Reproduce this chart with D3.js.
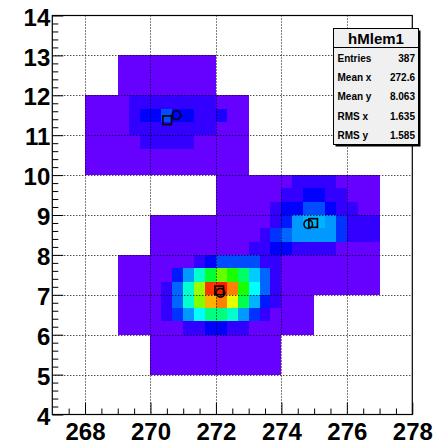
<!DOCTYPE html>
<html><head><meta charset="utf-8">
<script src="https://cdn.jsdelivr.net/npm/d3@7"></script>
<style>body{margin:0;background:#fff}svg{display:block}</style>
</head><body>
<svg id="c" width="434" height="442"></svg>
<script>
// ---- data ----
const xMin = 267, xMax = 278, yMin = 4, yMax = 14;
const nBinsX = 33, nBinsY = 30;
// bin contents, top row (y 13.67-14) first, x from 267 upward in 1/3 steps
const zRows = [
 [0,0,0,0,0,0,0,0,0,0,0,0,0,0,0,0,0,0,0,0,0,0,0,0,0,0,0,0,0,0,0,0,0],
 [0,0,0,0,0,0,0,0,0,0,0,0,0,0,0,0,0,0,0,0,0,0,0,0,0,0,0,0,0,0,0,0,0],
 [0,0,0,0,0,0,0,0,0,0,0,0,0,0,0,0,0,0,0,0,0,0,0,0,0,0,0,0,0,0,0,0,0],
 [0,0,0,0,0,0,1,1,1,1,1,1,1,1,1,0,0,0,0,0,0,0,0,0,0,0,0,0,0,0,0,0,0],
 [0,0,0,0,0,0,1,1,1,1,1,1,1,1,1,0,0,0,0,0,0,0,0,0,0,0,0,0,0,0,0,0,0],
 [0,0,0,0,0,0,1,1,1,1,1,1,1,1,1,0,0,0,0,0,0,0,0,0,0,0,0,0,0,0,0,0,0],
 [0,0,0,1,1,1,1,3,3,3,3,3,3,3,3,1,1,1,0,0,0,0,0,0,0,0,0,0,0,0,0,0,0],
 [0,0,0,1,1,1,1,3,5,5,8,5,5,3,3,4,1,1,0,0,0,0,0,0,0,0,0,0,0,0,0,0,0],
 [0,0,0,1,1,1,1,3,3,3,3,3,3,3,3,1,1,1,0,0,0,0,0,0,0,0,0,0,0,0,0,0,0],
 [0,0,0,1,1,1,1,1,3,3,3,3,3,1,1,1,1,1,0,0,0,0,0,0,0,0,0,0,0,0,0,0,0],
 [0,0,0,1,1,1,1,1,1,1,1,1,1,1,1,1,1,1,0,0,0,0,0,0,0,0,0,0,0,0,0,0,0],
 [0,0,0,1,1,1,1,1,1,1,1,1,1,1,1,1,1,1,0,0,0,0,0,0,0,0,0,0,0,0,0,0,0],
 [0,0,0,0,0,0,0,0,0,0,0,0,0,0,0,1,1,1,1,1,1,1,3,3,3,3,1,1,1,1,0,0,0],
 [0,0,0,0,0,0,0,0,0,0,0,0,0,0,0,1,1,1,1,1,1,3,3,5,5,3,3,1,1,1,0,0,0],
 [0,0,0,0,0,0,0,0,0,0,0,0,0,0,0,1,1,1,1,1,3,5,5,8,8,5,3,3,1,1,0,0,0],
 [0,0,0,0,0,0,0,0,0,1,1,1,1,1,1,1,1,1,1,1,3,6,11,12,12,11,7,3,3,3,0,0,0],
 [0,0,0,0,0,0,0,0,0,1,1,1,1,1,1,1,1,1,1,3,7,9,11,11,11,11,7,3,3,3,0,0,0],
 [0,0,0,0,0,0,0,0,0,1,1,1,1,1,1,1,1,1,3,3,5,5,3,3,3,3,1,1,1,1,0,0,0],
 [0,0,0,0,0,0,1,1,1,1,1,1,1,3,5,8,8,8,8,3,3,1,1,1,1,1,1,1,1,1,0,0,0],
 [0,0,0,0,0,0,1,1,1,1,1,6,11,17,23,29,26,21,13,9,3,1,1,1,1,1,1,1,1,1,0,0,0],
 [0,0,0,0,0,0,1,1,1,1,3,9,17,31,43,44,40,26,15,9,3,1,1,1,1,1,1,1,1,1,0,0,0],
 [0,0,0,0,0,0,1,1,1,1,3,9,17,30,38,40,34,22,12,6,3,1,1,1,0,0,0,0,0,0,0,0,0],
 [0,0,0,0,0,0,1,1,1,1,3,7,11,15,20,20,17,11,7,3,1,1,1,1,0,0,0,0,0,0,0,0,0],
 [0,0,0,0,0,0,1,1,1,1,1,1,3,3,5,5,3,3,1,1,1,1,1,1,0,0,0,0,0,0,0,0,0],
 [0,0,0,0,0,0,0,0,0,1,1,1,1,1,1,1,1,1,1,1,1,0,0,0,0,0,0,0,0,0,0,0,0],
 [0,0,0,0,0,0,0,0,0,1,1,1,1,1,1,1,1,1,1,1,1,0,0,0,0,0,0,0,0,0,0,0,0],
 [0,0,0,0,0,0,0,0,0,1,1,1,1,1,1,1,1,1,1,1,1,0,0,0,0,0,0,0,0,0,0,0,0],
 [0,0,0,0,0,0,0,0,0,0,0,0,0,0,0,0,0,0,0,0,0,0,0,0,0,0,0,0,0,0,0,0,0],
 [0,0,0,0,0,0,0,0,0,0,0,0,0,0,0,0,0,0,0,0,0,0,0,0,0,0,0,0,0,0,0,0,0],
 [0,0,0,0,0,0,0,0,0,0,0,0,0,0,0,0,0,0,0,0,0,0,0,0,0,0,0,0,0,0,0,0,0]
];
const xTickValues = [268, 270, 272, 274, 276, 278];
const yTickValues = [4, 5, 6, 7, 8, 9, 10, 11, 12, 13, 14];
const circleMarkersX = [270.79, 274.82, 272.14];
const circleMarkersY = [11.50, 8.77, 7.05];
const squareMarkersX = [270.51, 274.97, 272.10];
const squareMarkersY = [11.375, 8.80, 7.11];
const statsTitle = "hMlem1";
const statsLabels = ["Entries", "Mean x", "Mean y", "RMS x", "RMS y"];
const statsValues = ["387", "272.6", "8.063", "1.635", "1.585"];

// ---- drawing ----
const FONT = "'Liberation Sans', Arial, Helvetica, sans-serif";
const svg = d3.select("#c");
const L = 52.3, R = 412.3, T = 15.5, B = 414.5;
const X = d3.scaleLinear().domain([xMin, xMax]).range([L, R]);
const Y = d3.scaleLinear().domain([yMin, yMax]).range([B, T]);
const hue = d3.scaleLinear().domain([1, 45]).range([264, 0]).clamp(true);
const color = z => d3.hsl(hue(z), 1, 0.5).formatHex();

const bw = (xMax - xMin) / nBinsX, bh = (yMax - yMin) / nBinsY;
const cells = [];
zRows.forEach((row, r) => {
  const j = nBinsY - 1 - r;
  row.forEach((z, i) => {
    if (z > 0) cells.push({x0: xMin + i * bw, x1: xMin + (i + 1) * bw, y0: yMin + j * bh, y1: yMin + (j + 1) * bh, z});
  });
});

svg.append("g").attr("shape-rendering", "crispEdges")
  .selectAll("rect").data(cells).join("rect")
  .attr("x", d => Math.round(X(d.x0)))
  .attr("width", d => Math.round(X(d.x1)) - Math.round(X(d.x0)))
  .attr("y", d => Math.round(Y(d.y1)))
  .attr("height", d => Math.round(Y(d.y0)) - Math.round(Y(d.y1)))
  .attr("fill", d => color(d.z));

// grid (dotted)
const grid = svg.append("g").attr("stroke", "#000").attr("stroke-width", 1).attr("stroke-dasharray", "1,2");
grid.selectAll("line.gx").data(xTickValues.filter(v => v > xMin && v < xMax)).join("line")
  .attr("x1", d => Math.round(X(d)) + 0.5).attr("x2", d => Math.round(X(d)) + 0.5)
  .attr("y1", T).attr("y2", B);
grid.selectAll("line.gy").data(yTickValues.filter(v => v > yMin && v < yMax)).join("line")
  .attr("class", "gy")
  .attr("y1", d => Math.round(Y(d)) + 0.5).attr("y2", d => Math.round(Y(d)) + 0.5)
  .attr("x1", L).attr("x2", R);

// markers
const mk = svg.append("g").attr("fill", "none").attr("stroke", "#000").attr("stroke-width", 1.6);
mk.selectAll("circle").data(circleMarkersX.map((x, k) => [x, circleMarkersY[k]])).join("circle")
  .attr("cx", d => X(d[0])).attr("cy", d => Y(d[1])).attr("r", 4.3);
mk.selectAll("rect").data(squareMarkersX.map((x, k) => [x, squareMarkersY[k]])).join("rect")
  .attr("x", d => X(d[0]) - 4.3).attr("y", d => Y(d[1]) - 4.3).attr("width", 8.6).attr("height", 8.6);

// axes
const minorX = d3.range(267.5, 278, 0.5).filter(v => !xTickValues.includes(v));
const minorY = d3.range(42, 140, 2).map(v => v / 10).filter(v => !yTickValues.includes(v));

const gx = svg.append("g").attr("transform", `translate(0,${B})`);
gx.append("g").call(d3.axisBottom(X).tickValues(minorX).tickSize(-6).tickFormat(""));
gx.append("g").call(d3.axisBottom(X).tickValues(xTickValues).tickSize(-12).tickPadding(8.5).tickFormat(d3.format("d")));
const gy = svg.append("g").attr("transform", `translate(${L},0)`);
gy.append("g").call(d3.axisLeft(Y).tickValues(minorY).tickSize(-6).tickFormat(""));
gy.append("g").call(d3.axisLeft(Y).tickValues(yTickValues).tickSize(-11).tickPadding(2).tickFormat(d3.format("d")));
svg.selectAll(".domain").remove();
svg.selectAll(".tick line").attr("stroke", "#000").attr("stroke-width", 1);
svg.selectAll(".tick text").attr("font-family", FONT).attr("font-weight", "bold")
  .attr("font-size", 24).attr("fill", "#000");
gy.selectAll(".tick text").attr("dy", "0.4em");

// frame
svg.append("rect").attr("x", L).attr("y", T).attr("width", R - L).attr("height", B - T)
  .attr("fill", "none").attr("stroke", "#000").attr("stroke-width", 1.2);

// stats box
const sb = {x: 333.5, y: 28.5, w: 85, h: 116};
const st = svg.append("g");
st.append("rect").attr("x", sb.x + 2).attr("y", sb.y + 2).attr("width", sb.w).attr("height", sb.h).attr("fill", "#000");
st.append("rect").attr("x", sb.x).attr("y", sb.y).attr("width", sb.w).attr("height", sb.h)
  .attr("fill", "#f0f0f0").attr("stroke", "#000").attr("stroke-width", 1);
st.append("line").attr("x1", sb.x).attr("x2", sb.x + sb.w).attr("y1", 47.5).attr("y2", 47.5).attr("stroke", "#000");
st.append("text").attr("x", sb.x + sb.w / 2).attr("y", 44).attr("text-anchor", "middle")
  .attr("font-family", FONT).attr("font-weight", "bold").attr("font-size", 15).text(statsTitle);
const rowY = d3.scaleLinear().domain([0, statsLabels.length - 1]).range([61.5, 139.1]);
st.selectAll("text.l").data(statsLabels).join("text").attr("class", "l")
  .attr("x", 337.5).attr("y", (d, k) => rowY(k))
  .attr("font-family", FONT).attr("font-weight", "bold").attr("font-size", 10).text(d => d);
st.selectAll("text.v").data(statsValues).join("text").attr("class", "v")
  .attr("x", 415).attr("y", (d, k) => rowY(k)).attr("text-anchor", "end")
  .attr("font-family", FONT).attr("font-weight", "bold").attr("font-size", 10).text(d => d);
</script>
</body></html>
